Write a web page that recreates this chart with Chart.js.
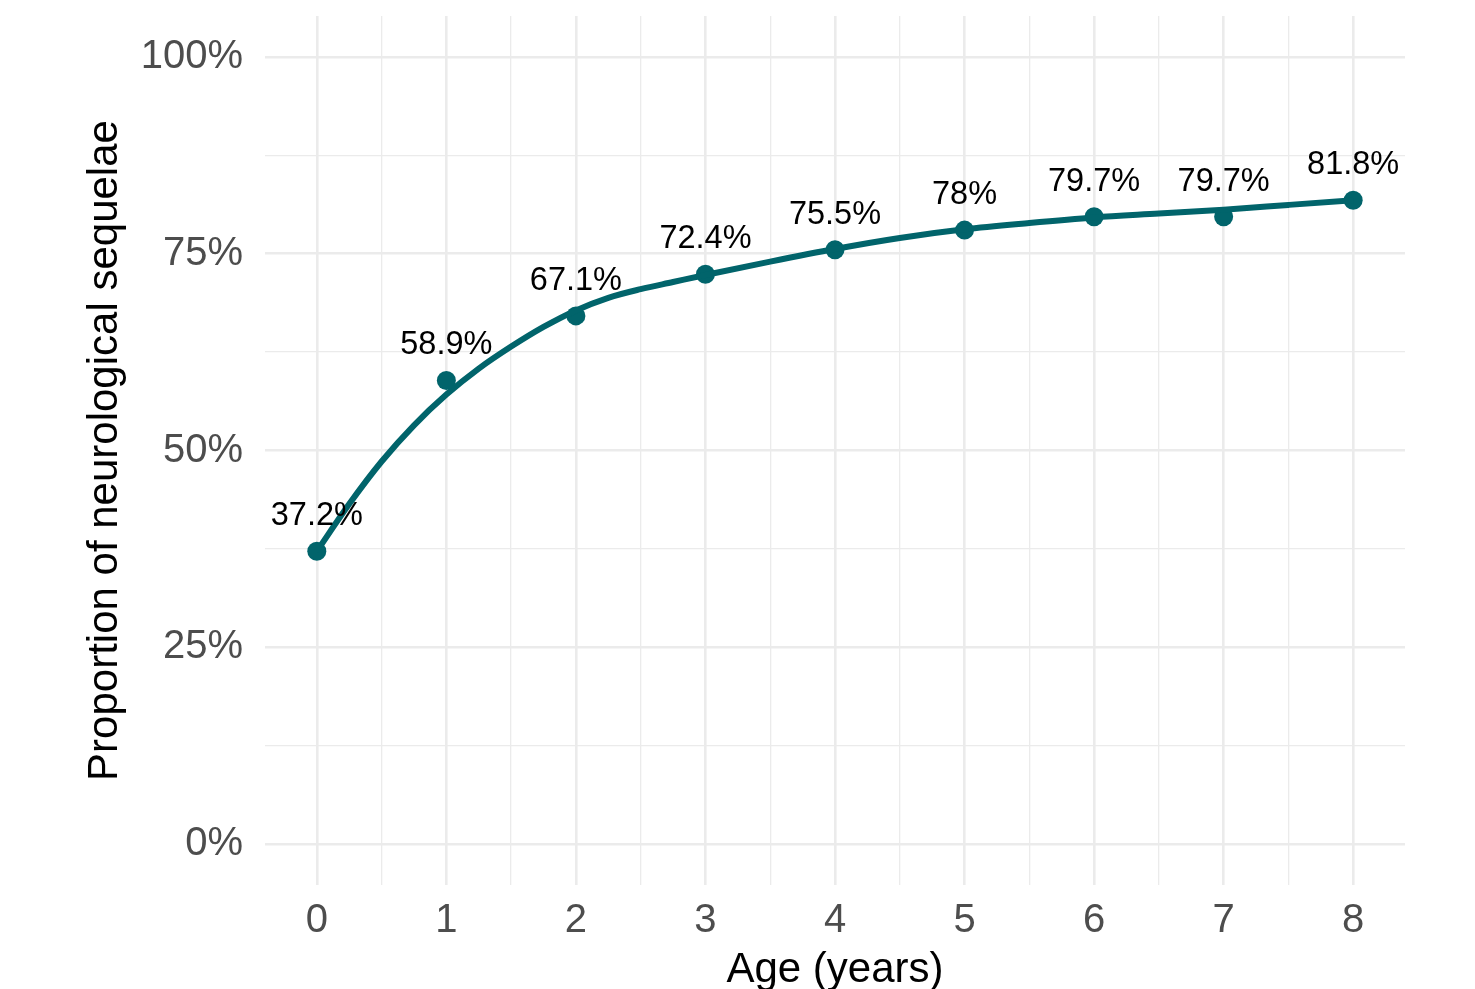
<!DOCTYPE html>
<html>
<head>
<meta charset="utf-8">
<script src="https://cdn.jsdelivr.net/npm/chart.js@4/dist/chart.umd.min.js"></script>
<style>
  html, body { margin: 0; padding: 0; background: #fff; overflow: hidden; }
</style>
</head>
<body>
<canvas id="chart" width="1475" height="1010"></canvas>
<script>
// observed proportions per age
const ages = [0, 1, 2, 3, 4, 5, 6, 7, 8];
const proportions = [37.2, 58.9, 67.1, 72.4, 75.5, 78, 79.7, 79.7, 81.8];

// smoothed curve
const smoothAges = [0, 0.25, 0.5, 0.75, 1, 1.25, 1.5, 1.75, 2, 2.25, 2.5, 2.75, 3, 3.5, 4, 4.5, 5, 5.5, 6, 6.5, 7, 7.5, 8];
const smoothValues = [37.2, 43.2, 48.6, 53.2, 57.1, 60.4, 63.2, 65.7, 67.8, 69.4, 70.5, 71.4, 72.3, 74.0, 75.6, 77.0, 78.1, 78.9, 79.6, 80.1, 80.6, 81.2, 81.8];

const xTicks = [0, 0.5, 1, 1.5, 2, 2.5, 3, 3.5, 4, 4.5, 5, 5.5, 6, 6.5, 7, 7.5, 8];
const yTicks = [0, 12.5, 25, 37.5, 50, 62.5, 75, 87.5, 100];

const teal = "#01646b";
const gridColor = "#ebebeb";
const fontFamily = "'Liberation Sans', Arial, sans-serif";

const pointLabels = {
  id: "pointLabels",
  afterDatasetsDraw(chart) {
    const meta = chart.getDatasetMeta(1);
    const ctx = chart.ctx;
    ctx.save();
    ctx.fillStyle = "#000";
    ctx.font = "32.5px " + fontFamily;
    ctx.textAlign = "center";
    ctx.textBaseline = "middle";
    meta.data.forEach((pt, i) => {
      ctx.fillText(proportions[i] + "%", pt.x, pt.y - 35);
    });
    ctx.restore();
  }
};

function isWhole(v) {
  return Math.abs(v - Math.round(v)) < 1e-6;
}

new Chart(document.getElementById("chart"), {
  type: "scatter",
  data: {
    datasets: [{
      type: "line",
      data: smoothAges.map((a, i) => ({ x: a, y: smoothValues[i] })),
      borderColor: teal,
      borderWidth: 6,
      pointRadius: 0,
      cubicInterpolationMode: "monotone",
      fill: false
    }, {
      type: "scatter",
      data: ages.map((a, i) => ({ x: a, y: proportions[i] })),
      backgroundColor: teal,
      borderColor: teal,
      pointRadius: 9.5,
      borderWidth: 0
    }]
  },
  options: {
    responsive: false,
    animation: false,
    layout: { padding: { top: 16, right: 70, left: 0, bottom: 0 } },
    plugins: {
      legend: { display: false },
      tooltip: { enabled: false }
    },
    scales: {
      x: {
        type: "linear",
        min: -0.4,
        max: 8.4,
        afterBuildTicks: (scale) => { scale.ticks = xTicks.map(v => ({ value: v })); },
        afterFit: (scale) => {
          scale.height = 125;
          scale.paddingLeft = 0;
          scale.paddingRight = 0;
        },
        border: { display: false },
        grid: {
          color: gridColor,
          drawTicks: false,
          lineWidth: (c) => isWhole(c.tick.value) ? 2.6 : 1.3
        },
        ticks: {
          color: "#4d4d4d",
          font: { family: fontFamily, size: 40 },
          padding: 12,
          maxRotation: 0,
          autoSkip: false,
          callback: (v) => isWhole(v) ? String(v) : ""
        },
        title: {
          display: true,
          text: "Age (years)",
          color: "#000",
          font: { family: fontFamily, size: 42 },
          padding: { top: 0, bottom: 14 }
        }
      },
      y: {
        min: -5.2,
        max: 105.2,
        afterBuildTicks: (scale) => { scale.ticks = yTicks.map(v => ({ value: v })); },
        afterFit: (scale) => {
          scale.width = 265;
          scale.paddingTop = 0;
          scale.paddingBottom = 0;
        },
        border: { display: false },
        grid: {
          color: gridColor,
          drawTicks: false,
          lineWidth: (c) => (c.tick.value % 25 === 0) ? 2.6 : 1.3
        },
        ticks: {
          color: "#4d4d4d",
          font: { family: fontFamily, size: 40 },
          padding: 22,
          autoSkip: false,
          callback: (v) => (v % 25 === 0) ? v + "%" : ""
        },
        title: {
          display: true,
          text: "Proportion of neurological sequelae",
          color: "#000",
          font: { family: fontFamily, size: 42 },
          padding: { top: 80, bottom: 0 }
        }
      }
    }
  },
  plugins: [pointLabels]
});
</script>
</body>
</html>
